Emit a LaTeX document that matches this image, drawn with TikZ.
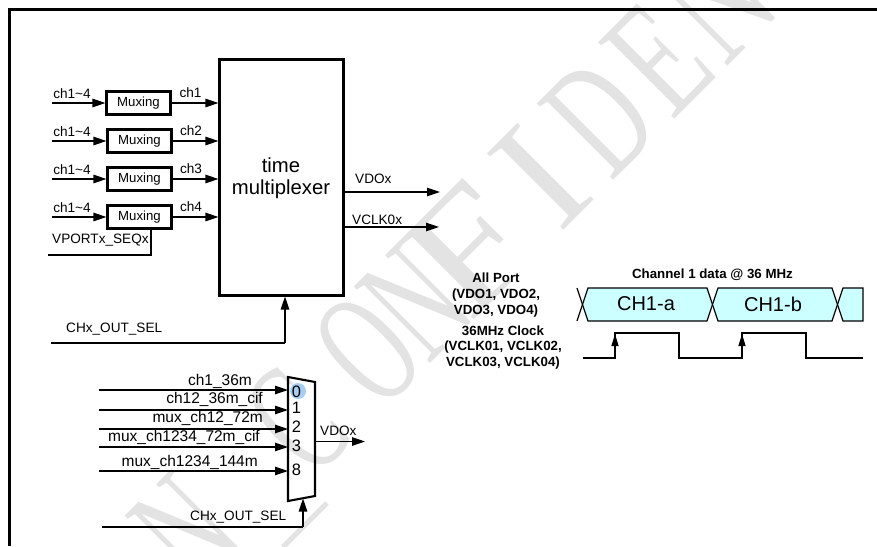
\documentclass[tikz,border=0pt]{standalone}
\usepackage{fontspec}
\setmainfont{Liberation Sans}
\newfontfamily\wmfont{Liberation Serif}
\usetikzlibrary{arrows.meta,calc}
\definecolor{wmgray}{HTML}{E3E3E3}
\definecolor{buscyan}{HTML}{CCFFFF}
\definecolor{markblue}{HTML}{A6CDF2}
\newcommand{\fs}[1]{\fontsize{#1}{#1}\selectfont}
\tikzset{
  conn/.style={line width=1.2pt,-{Triangle[length=13pt,width=8.5pt]}},
  wire/.style={line width=1.2pt},
  muxbox/.style={draw,line width=2.1pt,minimum width=64pt,minimum height=23pt,inner sep=0pt,font=\fs{13.2}},
  lab/.style={inner sep=0pt,font=\fs{13.6}},
  muxlab/.style={inner sep=0pt,font=\fs{15.5}},
  digit/.style={inner sep=0pt,font=\fs{16.5}},
  bold/.style={inner sep=0pt,font=\fs{13.3}\bfseries,align=center},
  hexa/.style={draw,line width=1.2pt,fill=buscyan},
  clk/.style={line width=1.2pt},
  clkarrow/.style={line width=1.2pt,-{Triangle[length=12pt,width=7pt]}},
  wm/.style={inner sep=0pt,text=wmgray,font=\wmfont\fs{165},rotate=45,anchor=base west}
}
\begin{document}
\begin{tikzpicture}[x=1pt,y=-1pt]
\useasboundingbox (0,0) rectangle (877,546);
% watermark: letters condensed individually, on one 45 degree baseline
\begin{scope}
\clip (0,0) rectangle (877,546);
\foreach \nm/\s/\sc/\ltr in {w1/-280/.6/N,w2/-118/.55/C,w3/-22/.58/O,w4/45/.6/N,w5/102/1.15/F,w6/229/1/I,w7/303/.63/D,w8/389/.68/E,w9/465/.7/N}{
  \pgfmathsetmacro{\px}{(794+1.414*\s)/2}
  \pgfmathsetmacro{\py}{(794-1.414*\s)/2}
  \node[wm] (\nm) at (\px,\py) {\scalebox{\sc}[1]{\ltr}};
}
\coordinate (wa) at (327,503);
\coordinate (wb) at (283,547);
\draw[wmgray,line width=5pt] (wa) -- (wb);
\end{scope}
% frame
\draw[line width=3.4pt] (9.5,546) -- (9.5,9.5) -- (877,9.5);
% time mux
\node[draw,line width=2.1pt,minimum width=124pt,minimum height=236pt,inner sep=0pt] (main) at (281.5,177.5) {};
\node[inner sep=0pt,font=\fs{20.3}] (t1) at (281,165) {time};
\node[inner sep=0pt,font=\fs{20.3}] (t2) at (281,189) {multiplexer};
% muxing
\foreach \i/\x/\y in {1/138.5/103,2/139.5/141,3/139.5/179,4/139.5/217}{
  \node[muxbox] (m\i) at (\x,\y) {Muxing};
  \coordinate (in\i) at (52,\y);
  \draw[conn] (in\i) -- (m\i.west);
  \draw[conn] (m\i.east) -- (m\i.east -| main.west);
  \node[lab] (cl\i) at (72,\y-9.5) {ch1\textasciitilde 4};
}
\node[lab] (o1) at (190.5,92.5) {ch1};
\node[lab] (o2) at (191,130.5) {ch2};
\node[lab] (o3) at (191,168.5) {ch3};
\node[lab] (o4) at (191,206.5) {ch4};
\node[lab,anchor=west] (vport) at (52,240) {VPORTx\_SEQx};
\coordinate (vpe) at (48,255);
\draw[wire] (vpe) -- (vpe -| 151,0) -- (151,0 |- m4.south);
% outputs
\coordinate (voe) at (440,192);
\coordinate (vce) at (439,227);
\draw[conn] (main.east |- voe) -- (voe);
\draw[conn] (main.east |- vce) -- (vce);
\node[lab,anchor=west] (vdo) at (355,179) {VDOx};
\node[lab,anchor=west] (vclk) at (352,219.5) {VCLK0x};
% CHx sel
\coordinate (sel) at (51,343);
\coordinate (seltop) at (285,296.5);
\draw[wire] (sel) -- (sel -| seltop);
\draw[conn] (sel -| seltop) -- (seltop);
\node[lab,anchor=west] (sellab) at (66,329) {CHx\_OUT\_SEL};
% lower mux
\coordinate (ma) at (288,377);
\coordinate (mb) at (315,382);
\coordinate (mc) at (315,496);
\coordinate (md) at (288,501);
\fill[markblue] (298,391) circle (8);
\draw[line width=2.1pt,line join=miter] (ma) -- (mb) -- (mc) -- (md) -- cycle;
\foreach \i/\y/\dy/\t in {a/390/392/0,b/410/408/1,c/429/427/2,d/447/446/3,e/471/470/8}{
  \coordinate (mi\i) at (99,\y);
  \draw[conn] (mi\i) -- (ma |- mi\i);
  \node[digit] (dg\i) at (296.5,\dy) {\t};
}
\node[muxlab,anchor=east] (la) at (252,381) {ch1\_36m};
\node[muxlab,anchor=east] (lb) at (263,399) {ch12\_36m\_cif};
\node[muxlab,anchor=east] (lc) at (263,418) {mux\_ch12\_72m};
\node[muxlab,anchor=east] (ld) at (260,437) {mux\_ch1234\_72m\_cif};
\node[muxlab,anchor=east] (le) at (258,462) {mux\_ch1234\_144m};
\coordinate (muxout) at (365,441.5);
\draw[conn] (mb |- muxout) -- (muxout);
\node[lab,anchor=west] (vdo2) at (320,430.5) {VDOx};
\coordinate (bsel) at (102,527);
\coordinate (bseltop) at (303,498.5);
\draw[wire] (bsel) -- (bsel -| bseltop);
\draw[conn] (bsel -| bseltop) -- (bseltop);
\node[lab,anchor=west] (bsl) at (190,517) {CHx\_OUT\_SEL};
% timing
\node[bold] (title) at (712.5,275) {Channel 1 data @ 36 MHz};
\node[bold] (allp) at (496,278) {All Port};
\node[bold] (vdo1) at (496,295) {(VDO1, VDO2,};
\node[bold] (vdo3) at (496,311) {VDO3, VDO4)};
\node[bold] (clk1) at (503,331) {36MHz Clock};
\node[bold] (clk2) at (503,347) {(VCLK01, VCLK02,};
\node[bold] (clk3) at (503,363) {VCLK03, VCLK04)};
\draw[hexa] (582.5,304.5) -- (588,288) -- (707,288) -- (712.5,304.5) -- (707,321) -- (588,321) -- cycle;
\draw[hexa] (712.5,304.5) -- (718,288) -- (832,288) -- (837.5,304.5) -- (832,321) -- (718,321) -- cycle;
\draw[hexa] (837.5,304.5) -- (843,288) -- (863,288) -- (863,321) -- (843,321) -- cycle;
\draw[line width=1.2pt] (577,288) -- (582.5,304.5) -- (577,321);
\node[inner sep=0pt,font=\fs{20}] (cha) at (646,304) {CH1-a};
\node[inner sep=0pt,font=\fs{20}] (chb) at (773,304) {CH1-b};
\coordinate (c0) at (583,358);
\coordinate (r1) at (615,334);
\coordinate (r2) at (742,334);
\draw[clk] (c0) -- (615,358) -- (615,333) -- (679,333) -- (679,358) -- (742,358) -- (742,333) -- (806,333) -- (806,358) -- (863,358);
\draw[clkarrow] (615,350) -- (r1);
\draw[clkarrow] (742,350) -- (r2);
\end{tikzpicture}
\end{document}
